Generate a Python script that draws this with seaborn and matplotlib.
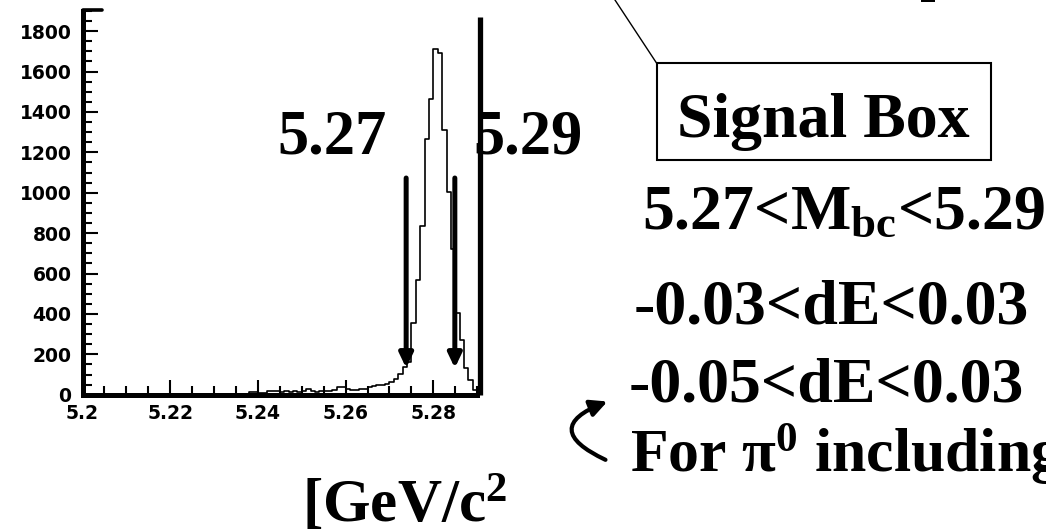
import numpy as np
import pandas as pd
import matplotlib
matplotlib.use("Agg")
import matplotlib.pyplot as plt
from matplotlib.ticker import MultipleLocator
from matplotlib.patches import Rectangle, FancyArrowPatch
from matplotlib.lines import Line2D
import seaborn as sns

# ---------------- data ----------------
bin_low = 5.200
bin_width = 0.001
n_bins = 90
counts = [
    0, 0, 0, 0, 0, 0, 0, 0, 0, 0,
    0, 0, 0, 0, 0, 0, 0, 0, 0, 0,
    0, 0, 0, 0, 4, 0, 0, 0, 0, 0,
    2, 0, 0, 0, 0, 3, 0, 0, 12, 14,
    8, 6, 16, 18, 16, 12, 18, 14, 17, 12,
    20, 26, 16, 14, 18, 20, 18, 24, 38, 36,
    26, 24, 25, 26, 28, 36, 42, 46, 50, 52,
    62, 78, 102, 135, 160, 354, 568, 836, 1266, 1465,
    1713, 1690, 1312, 1002, 721, 404, 271, 130, 75, 25,
]
x_ticks = [5.20, 5.22, 5.24, 5.26, 5.28]
x_tick_labels = ["5.2", "5.22", "5.24", "5.26", "5.28"]
y_ticks = [0, 200, 400, 600, 800, 1000, 1200, 1400, 1600, 1800]
y_tick_labels = [str(v) for v in y_ticks]
cut_arrow_x = [5.2738, 5.2849]
cut_arrow_top = 1073
cut_arrow_tip = 132
cut_labels = ["5.27", "5.29"]
box_title = "Signal Box"
cut_lines = ["5.27<M$_{\\mathrm{bc}}$<5.29", "-0.03<dE<0.03", "-0.05<dE<0.03"]
pi0_note = "For \u03c0$^{0}$ including"
unit_label = "[GeV/c$^{2}$"

edges = [round(bin_low + bin_width * i, 4) for i in range(n_bins + 1)]
centers = [(edges[i] + edges[i + 1]) / 2 for i in range(n_bins)]
df = pd.DataFrame({"mbc": centers, "n": counts})

# ---------------- style ----------------
sns.set_style("white")
plt.rcParams["font.family"] = ["DejaVu Sans"]
plt.rcParams["text.color"] = "black"
plt.rcParams["axes.labelcolor"] = "black"
plt.rcParams["axes.edgecolor"] = "black"
plt.rcParams["xtick.color"] = "black"
plt.rcParams["ytick.color"] = "black"
plt.rcParams["mathtext.fontset"] = "custom"
plt.rcParams["mathtext.rm"] = "Liberation Serif:bold"
plt.rcParams["mathtext.bf"] = "Liberation Serif:bold"
plt.rcParams["mathtext.it"] = "Liberation Serif:bold"

W, H = 1046, 531
fig = plt.figure(figsize=(W / 100, H / 100), dpi=100)
fig.patch.set_facecolor("white")


def px(x, y):
    return (x / W, 1 - y / H)


x0, x1, yb, yt = 82.5, 477.2, 394.7, 11.0
ax = fig.add_axes([x0 / W, (H - yb) / H, (x1 - x0) / W, (yb - yt) / H])
ax.set_facecolor("white")

sns.histplot(data=df, x="mbc", weights="n", bins=edges, element="step",
             fill=False, color="black", linewidth=1.2, ax=ax)

ax.set_xlim(5.2, 5.29)
ax.set_ylim(0, 1900)
ax.set_xlabel("")
ax.set_ylabel("")

ax.set_xticks(x_ticks)
ax.set_xticklabels(x_tick_labels)
ax.set_yticks(y_ticks)
ax.set_yticklabels(y_tick_labels)
ax.xaxis.set_minor_locator(MultipleLocator(0.005))
ax.yaxis.set_minor_locator(MultipleLocator(50))
ax.tick_params(which="major", direction="in", length=11, width=1.5,
               color="black", labelcolor="black", labelsize=13.5,
               bottom=True, left=True)
ax.tick_params(which="minor", direction="in", length=6.5, width=1.5,
               color="black", bottom=True, left=True)
ax.tick_params(axis="x", which="major", pad=6.5)
ax.tick_params(axis="y", which="major", pad=8)
for lab in ax.get_xticklabels() + ax.get_yticklabels():
    lab.set_fontweight("bold")

for side in ["left", "bottom"]:
    ax.spines[side].set_linewidth(3.6)
    ax.spines[side].set_color("black")
for side in ["top", "right"]:
    ax.spines[side].set_visible(False)

# partial top frame and right frame line
ax.add_line(Line2D([0, 0.049], [1.002, 1.002], transform=ax.transAxes,
                   color="black", lw=2.6, clip_on=False, zorder=6))
ax.plot([5.2906, 5.2906], [0, 1868], color="black", lw=3.8,
        clip_on=False, zorder=6, solid_capstyle="butt")

# cut arrows
for xa in cut_arrow_x:
    ax.annotate("", xy=(xa, cut_arrow_tip), xytext=(xa, cut_arrow_top),
                arrowprops=dict(arrowstyle="-|>,head_length=0.42,head_width=0.2",
                                lw=3.6, color="black", mutation_scale=20,
                                shrinkA=0, shrinkB=0),
                zorder=5)

serif = "Liberation Serif"
# big cut labels (behind the right frame line)
ax.text(*px(331.5, 153), cut_labels[0], transform=fig.transFigure,
        fontsize=45, fontweight="bold", family=serif, ha="center",
        va="baseline", zorder=2, clip_on=False, color="black")
ax.text(*px(528, 153), cut_labels[1], transform=fig.transFigure,
        fontsize=45, fontweight="bold", family=serif, ha="center",
        va="baseline", zorder=2, clip_on=False, color="black")

# signal box and leader line
fig.add_artist(Rectangle(px(656.7, 160), 334.3 / W, 96.7 / H,
                         transform=fig.transFigure, fill=False,
                         edgecolor="black", lw=1.5))
fig.add_artist(Line2D([611.7 / W, 656.7 / W], [1 + 5 / H, 1 - 63.3 / H],
                      transform=fig.transFigure, color="black", lw=1.0))
fig.text(*px(823.5, 136.7), box_title, fontsize=46, fontweight="bold",
         family=serif, ha="center", va="baseline", color="black")

fig.text(*px(843.5, 229.5), cut_lines[0], fontsize=46, fontweight="bold",
         family=serif, ha="center", va="baseline", color="black")
fig.text(*px(831, 323.3), cut_lines[1], fontsize=46, fontweight="bold",
         family=serif, ha="center", va="baseline", color="black")
fig.text(*px(826.5, 401.7), cut_lines[2], fontsize=46, fontweight="bold",
         family=serif, ha="center", va="baseline", color="black")
fig.text(*px(630, 471.7), pi0_note, fontsize=44.5, fontweight="bold",
         family=serif, ha="left", va="baseline", color="black")

# curved arrow
fig.add_artist(FancyArrowPatch(px(608, 461), px(610, 400.5),
                               transform=fig.transFigure,
                               connectionstyle="arc3,rad=-1.2",
                               arrowstyle="-|>,head_length=0.5,head_width=0.25",
                               mutation_scale=20, lw=3, color="black"))

# unit label
fig.text(*px(302, 521.7), unit_label, fontsize=44, fontweight="bold",
         family=serif, ha="left", va="baseline", color="black")

# fragment of cut-off text at the top
fig.add_artist(Rectangle(px(920.7, 1.8), 14.3 / W, 1.8 / H,
                         transform=fig.transFigure, facecolor="black",
                         edgecolor="none"))

fig.savefig("out.png", dpi=100, facecolor="white")
